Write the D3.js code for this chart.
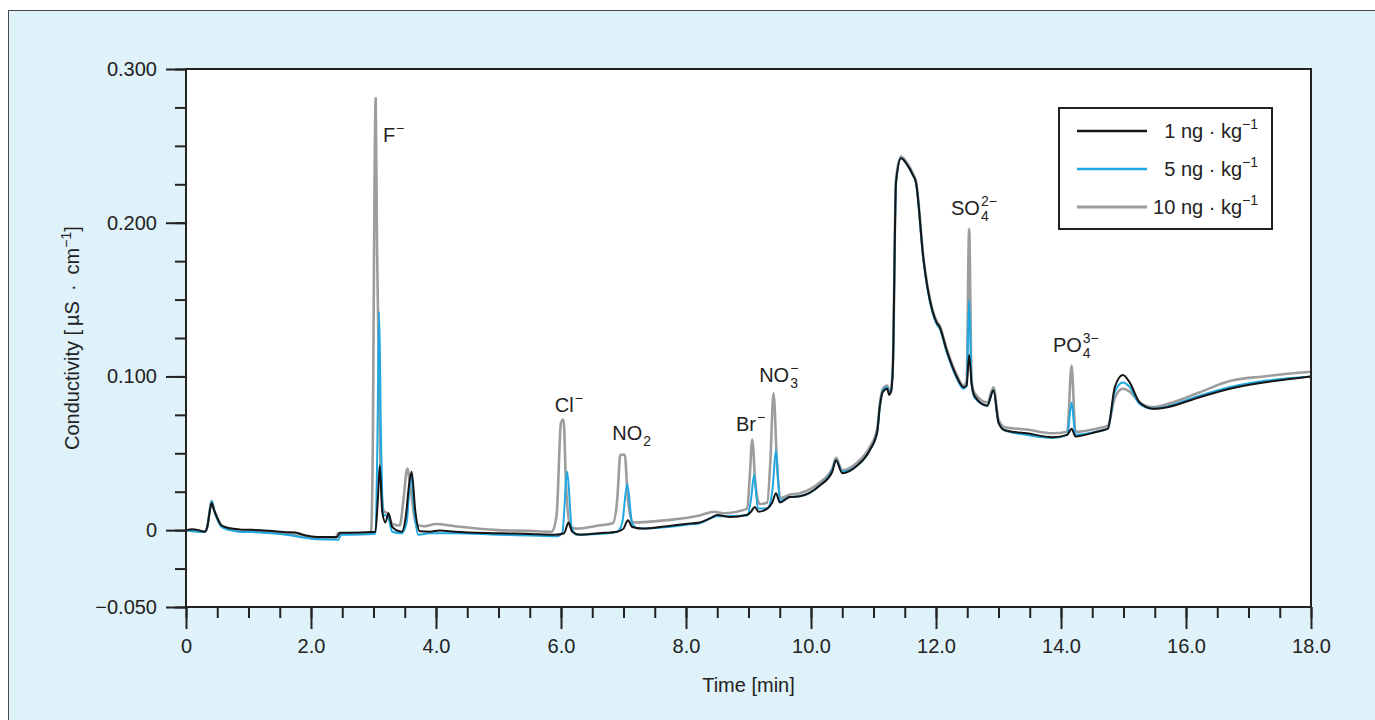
<!DOCTYPE html>
<html>
<head>
<meta charset="utf-8">
<script src="https://d3js.org/d3.v7.min.js"></script>
<style>
  body { margin: 0; background: #fff; }
  text { font-family: "Liberation Sans", Arial, sans-serif; fill: #222; }
</style>
</head>
<body>
<div id="chart"></div>
<script>
// chromatogram traces, time [min] and conductivity [µS/cm]
var t1 = [0, 0.1, 0.2, 0.3, 0.34, 0.38, 0.41, 0.45, 0.5, 0.57, 0.7, 0.85, 1.2, 1.6, 1.75, 1.9, 2.1, 2.42, 2.46, 2.6, 2.97,
  3.03, 3.07, 3.1, 3.14, 3.19, 3.24, 3.3, 3.45, 3.52, 3.57, 3.61, 3.67, 3.74, 3.9, 4.06, 4.3, 5.0, 5.5, 5.9, 6.05, 6.12,
  6.18, 6.3, 6.6, 6.9, 7.0, 7.07, 7.14, 7.3, 7.7, 8.0, 8.22, 8.4, 8.5, 8.7, 8.98, 9.04, 9.1, 9.16, 9.3, 9.38, 9.44, 9.5,
  9.66, 9.82, 10.14, 10.34, 10.4, 10.5, 10.74, 10.94, 11.06, 11.1, 11.15, 11.22, 11.25, 11.28, 11.31, 11.36, 11.44, 11.55,
  11.63, 11.68, 11.8, 11.94, 12.01, 12.06, 12.17, 12.33, 12.44, 12.49, 12.53, 12.57, 12.62, 12.82, 12.92, 13.0, 13.1,
  13.45, 13.87, 14.1, 14.17, 14.23, 14.57, 14.75, 14.86, 14.99, 15.1, 15.26, 15.47, 15.7, 16.18, 16.7, 17.24, 18];
var v1 = [0, 0.0005, 0, -0.001, 0.002, 0.012, 0.0176, 0.013, 0.008, 0.003, 0.0012, 0.0005, 0, -0.0013, -0.0015, -0.0033,
  -0.0044, -0.0044, -0.0017, -0.0017, -0.0012, -0.001, 0.02, 0.042, 0.012, 0.005, 0.011, 0.002, -0.001, 0.01, 0.03, 0.038,
  0.012, -0.0007, -0.001, -0.0002, -0.001, -0.002, -0.0025, -0.003, -0.002, 0.005, -0.001, -0.003, -0.002, -0.001, 0.001,
  0.0065, 0.002, 0.001, 0.0026, 0.004, 0.005, 0.008, 0.0098, 0.0085, 0.01, 0.012, 0.015, 0.012, 0.014, 0.018, 0.024, 0.018,
  0.0215, 0.022, 0.029, 0.038, 0.0455, 0.037, 0.042, 0.052, 0.064, 0.08, 0.09, 0.092, 0.088, 0.09, 0.106, 0.226, 0.242,
  0.237, 0.231, 0.226, 0.176, 0.143, 0.135, 0.132, 0.117, 0.1, 0.093, 0.094, 0.114, 0.095, 0.087, 0.081, 0.091, 0.07,
  0.065, 0.063, 0.0605, 0.062, 0.066, 0.061, 0.064, 0.066, 0.093, 0.101, 0.096, 0.083, 0.079, 0.08, 0.086, 0.092, 0.096, 0.1];

var t5 = [0, 0.3, 0.34, 0.38, 0.41, 0.45, 0.5, 0.57, 0.7, 0.85, 1.2, 1.6, 1.9, 2.1, 2.44, 2.48, 2.6, 3.0, 3.03, 3.06, 3.09,
  3.12, 3.16, 3.23, 3.3, 3.45, 3.53, 3.6, 3.66, 3.72, 3.9, 4.3, 5.0, 5.5, 5.95, 6.02, 6.1, 6.17, 6.25, 6.6, 6.9, 6.98, 7.06,
  7.14, 7.25, 7.7, 8.0, 8.22, 8.5, 8.98, 9.04, 9.09, 9.15, 9.3, 9.38, 9.44, 9.5, 9.66, 9.82, 10.14, 10.34, 10.4, 10.5,
  10.74, 10.94, 11.06, 11.1, 11.15, 11.22, 11.25, 11.28, 11.31, 11.36, 11.44, 11.55, 11.63, 11.68, 11.8, 11.94, 12.01,
  12.06, 12.17, 12.33, 12.44, 12.49, 12.53, 12.57, 12.62, 12.82, 12.92, 13.0, 13.1, 13.45, 13.87, 14.1, 14.17, 14.23,
  14.57, 14.75, 14.86, 14.99, 15.1, 15.26, 15.47, 15.7, 16.18, 16.7, 17.24, 18];
var v5 = [0, -0.0012, 0.002, 0.013, 0.019, 0.013, 0.007, 0.002, 0, -0.001, -0.0015, -0.003, -0.005, -0.006, -0.0062, -0.003,
  -0.003, -0.0025, -0.002, 0.05, 0.142, 0.06, 0.01, 0.009, -0.001, -0.002, 0.005, 0.036, 0.01, -0.003, -0.002, -0.002,
  -0.003, -0.0035, -0.004, -0.002, 0.038, 0.002, -0.003, -0.0025, -0.001, 0.005, 0.03, 0.004, 0.001, 0.002, 0.0035, 0.0045,
  0.009, 0.0095, 0.02, 0.036, 0.014, 0.014, 0.025, 0.052, 0.019, 0.0215, 0.022, 0.029, 0.039, 0.0455, 0.038, 0.042, 0.052,
  0.064, 0.08, 0.091, 0.093, 0.089, 0.09, 0.106, 0.226, 0.242, 0.237, 0.231, 0.226, 0.175, 0.142, 0.134, 0.131, 0.116,
  0.099, 0.092, 0.094, 0.15, 0.095, 0.086, 0.081, 0.091, 0.07, 0.065, 0.062, 0.06, 0.062, 0.083, 0.062, 0.064, 0.066, 0.09,
  0.096, 0.093, 0.082, 0.079, 0.0805, 0.087, 0.093, 0.097, 0.1];

var t10 = [0, 0.3, 0.34, 0.38, 0.41, 0.45, 0.5, 0.57, 0.7, 0.85, 1.2, 1.6, 1.9, 2.1, 2.4, 2.43, 2.6, 2.96, 2.99, 3.01, 3.035,
  3.055, 3.08, 3.12, 3.17, 3.23, 3.3, 3.42, 3.48, 3.54, 3.6, 3.68, 3.8, 4.0, 4.3, 5.0, 5.5, 5.85, 5.93, 6.0, 6.04, 6.08, 6.15,
  6.25, 6.6, 6.83, 6.9, 6.95, 7.02, 7.07, 7.15, 7.7, 8.22, 8.45, 8.6, 8.98, 9.02, 9.06, 9.11, 9.18, 9.3, 9.35, 9.4, 9.46, 9.52,
  9.66, 9.82, 10.14, 10.34, 10.4, 10.5, 10.74, 10.94, 11.06, 11.1, 11.15, 11.22, 11.25, 11.28, 11.31, 11.36, 11.44, 11.55,
  11.63, 11.68, 11.8, 11.94, 12.01, 12.06, 12.17, 12.33, 12.44, 12.49, 12.53, 12.57, 12.62, 12.82, 12.92, 13.0, 13.1,
  13.45, 13.87, 14.1, 14.17, 14.23, 14.57, 14.75, 14.86, 14.99, 15.1, 15.26, 15.47, 15.7, 16.18, 16.7, 17.24, 18];
var v10 = [0, -0.001, 0.002, 0.013, 0.019, 0.013, 0.008, 0.003, 0.001, 0, -0.001, -0.002, -0.004, -0.005, -0.005, -0.002,
  -0.002, -0.002, 0.06, 0.19, 0.281, 0.19, 0.12, 0.03, 0.012, 0.011, 0.004, 0.003, 0.02, 0.04, 0.025, 0.004, 0.0025, 0.004,
  0.0025, 0, -0.0005, -0.001, 0.01, 0.07, 0.072, 0.03, 0.002, 0.001, 0.003, 0.0045, 0.02, 0.049, 0.049, 0.02, 0.005, 0.0065,
  0.0095, 0.012, 0.011, 0.014, 0.035, 0.059, 0.03, 0.017, 0.018, 0.045, 0.089, 0.04, 0.021, 0.023, 0.024, 0.031, 0.04, 0.047,
  0.039, 0.044, 0.054, 0.066, 0.082, 0.092, 0.094, 0.09, 0.092, 0.108, 0.228, 0.243, 0.238, 0.232, 0.227, 0.177, 0.144,
  0.136, 0.133, 0.118, 0.101, 0.094, 0.097, 0.196, 0.097, 0.089, 0.083, 0.093, 0.072, 0.067, 0.0655, 0.063, 0.064, 0.107,
  0.064, 0.066, 0.068, 0.086, 0.092, 0.09, 0.083, 0.08, 0.082, 0.089, 0.097, 0.1, 0.103];

var seriesNames = ["1 ng · kg", "5 ng · kg", "10 ng · kg"];
var xTicks = [0, 2, 4, 6, 8, 10, 12, 14, 16, 18];
var xTickLabels = ["0", "2.0", "4.0", "6.0", "8.0", "10.0", "12.0", "14.0", "16.0", "18.0"];
var yTicks = [-0.05, 0, 0.1, 0.2, 0.3];
var yTickLabels = ["\u22120.050", "0", "0.100", "0.200", "0.300"];

// peak labels: base, subscript, superscript, anchor time, anchor value
var ionBase = ["F", "Cl", "NO", "Br", "NO", "SO", "PO"];
var ionSub = ["", "", "2", "", "3", "4", "4"];
var ionSup = ["\u2212", "\u2212", "", "\u2212", "\u2212", "2\u2212", "3\u2212"];
var ionT = [3.15, 5.9, 6.82, 8.8, 9.17, 12.24, 13.87];
var ionV = [0.2524, 0.0768, 0.0586, 0.0644, 0.0963, 0.205, 0.1158];

var margin = {top: 69, right: 64, bottom: 112, left: 186},
    width = 1375 - margin.left - margin.right,
    height = 719 - margin.top - margin.bottom;

var root = d3.select("#chart")
  .append("svg")
    .attr("width", 1375)
    .attr("height", 720);

// light blue panel
root.append("rect")
  .attr("x", 8.5).attr("y", 10.5)
  .attr("width", 1400).attr("height", 740)
  .attr("fill", "#dff1f9")
  .attr("stroke", "#4a4a4a")
  .attr("stroke-width", 1);

var svg = root.append("g")
  .attr("transform", "translate(" + margin.left + "," + margin.top + ")");

svg.append("rect")
  .attr("width", width).attr("height", height)
  .attr("fill", "#fff");

var x = d3.scaleLinear().domain([0, 18]).range([0, width]);
var y = d3.scaleLinear().domain([-0.05, 0.3]).range([height, 0]);

// minor + major ticks
svg.append("g")
  .attr("transform", "translate(0," + height + ")")
  .call(d3.axisBottom(x).tickValues(d3.range(0, 18.01, 0.5)).tickSize(11).tickFormat(""))
  .call(g => g.select(".domain").remove());
svg.append("g")
  .attr("transform", "translate(0," + height + ")")
  .call(d3.axisBottom(x).tickValues(xTicks).tickSize(22).tickPadding(10)
    .tickFormat((d, i) => xTickLabels[i]))
  .call(g => g.select(".domain").remove());

svg.append("g")
  .call(d3.axisLeft(y).tickValues(d3.range(-0.05, 0.3001, 0.025)).tickSize(11).tickFormat(""))
  .call(g => g.select(".domain").remove());
svg.append("g")
  .call(d3.axisLeft(y).tickValues(yTicks).tickSize(20).tickPadding(9)
    .tickFormat((d, i) => yTickLabels[i]))
  .call(g => g.select(".domain").remove());

svg.selectAll(".tick line").attr("stroke", "#222").attr("stroke-width", 2);
svg.selectAll(".tick text").attr("font-size", 20).style("font-family", "'Liberation Sans', Arial, sans-serif").attr("fill", "#222");

svg.append("clipPath").attr("id", "clip")
  .append("rect").attr("width", width).attr("height", height);

var line = d3.line()
  .x(d => x(d[0]))
  .y(d => y(d[1]))
  .curve(d3.curveMonotoneX);

var traces = [
  {t: t10, v: v10, color: "#9d9d9d", w: 2.6},
  {t: t5, v: v5, color: "#1ea7e1", w: 2},
  {t: t1, v: v1, color: "#151515", w: 2}
];
traces.forEach(function(s) {
  svg.append("path")
    .datum(s.t.map((tt, i) => [tt, s.v[i]]))
    .attr("clip-path", "url(#clip)")
    .attr("fill", "none")
    .attr("stroke", s.color)
    .attr("stroke-width", s.w)
    .attr("stroke-linejoin", "round")
    .attr("d", line);
});

// frame
svg.append("rect")
  .attr("width", width).attr("height", height)
  .attr("fill", "none")
  .attr("stroke", "#222")
  .attr("stroke-width", 2);

// peak labels
function chem(px, py, base, sub, sup) {
  var t = svg.append("text").attr("x", px).attr("y", py).attr("font-size", 20).text(base);
  var w = t.node().getComputedTextLength();
  if (sub) svg.append("text").attr("x", px + w + 1).attr("y", py + 6).attr("font-size", 14).text(sub);
  if (sup) svg.append("text").attr("x", px + w + 1).attr("y", py - 9).attr("font-size", 14).text(sup);
}
ionBase.forEach(function(b, i) {
  chem(x(ionT[i]), y(ionV[i]), b, ionSub[i], ionSup[i]);
});

// axis titles
svg.append("text")
  .attr("x", width / 2).attr("y", height + 85)
  .attr("text-anchor", "middle")
  .attr("font-size", 20)
  .text("Time [min]");

var yt = svg.append("text")
  .attr("transform", "translate(-107," + (height - 157) + ") rotate(-90)")
  .attr("font-size", 20);
yt.append("tspan").text("Conductivity [\u2009µS\u2002·\u2002cm");
yt.append("tspan").attr("dy", -8).attr("font-size", 14).text("\u22121");
yt.append("tspan").attr("dy", 8).text("]");

// legend
var lg = svg.append("g").attr("transform", "translate(" + (1059 - margin.left) + "," + (108 - margin.top) + ")");
lg.append("rect")
  .attr("width", 213).attr("height", 121)
  .attr("fill", "#fff").attr("stroke", "#222").attr("stroke-width", 2);
traces.slice().reverse().forEach(function(s, i) {
  var ly = 23 + i * 38;
  lg.append("line")
    .attr("x1", 18).attr("x2", 88).attr("y1", ly).attr("y2", ly)
    .attr("stroke", s.color).attr("stroke-width", s.w + 0.5);
  var tx = lg.append("text")
    .attr("x", 199).attr("y", ly + 7)
    .attr("text-anchor", "end")
    .attr("font-size", 20);
  tx.append("tspan").text(seriesNames[i]);
  tx.append("tspan").attr("dy", -9).attr("font-size", 14).text("\u22121");
});
</script>
</body>
</html>
